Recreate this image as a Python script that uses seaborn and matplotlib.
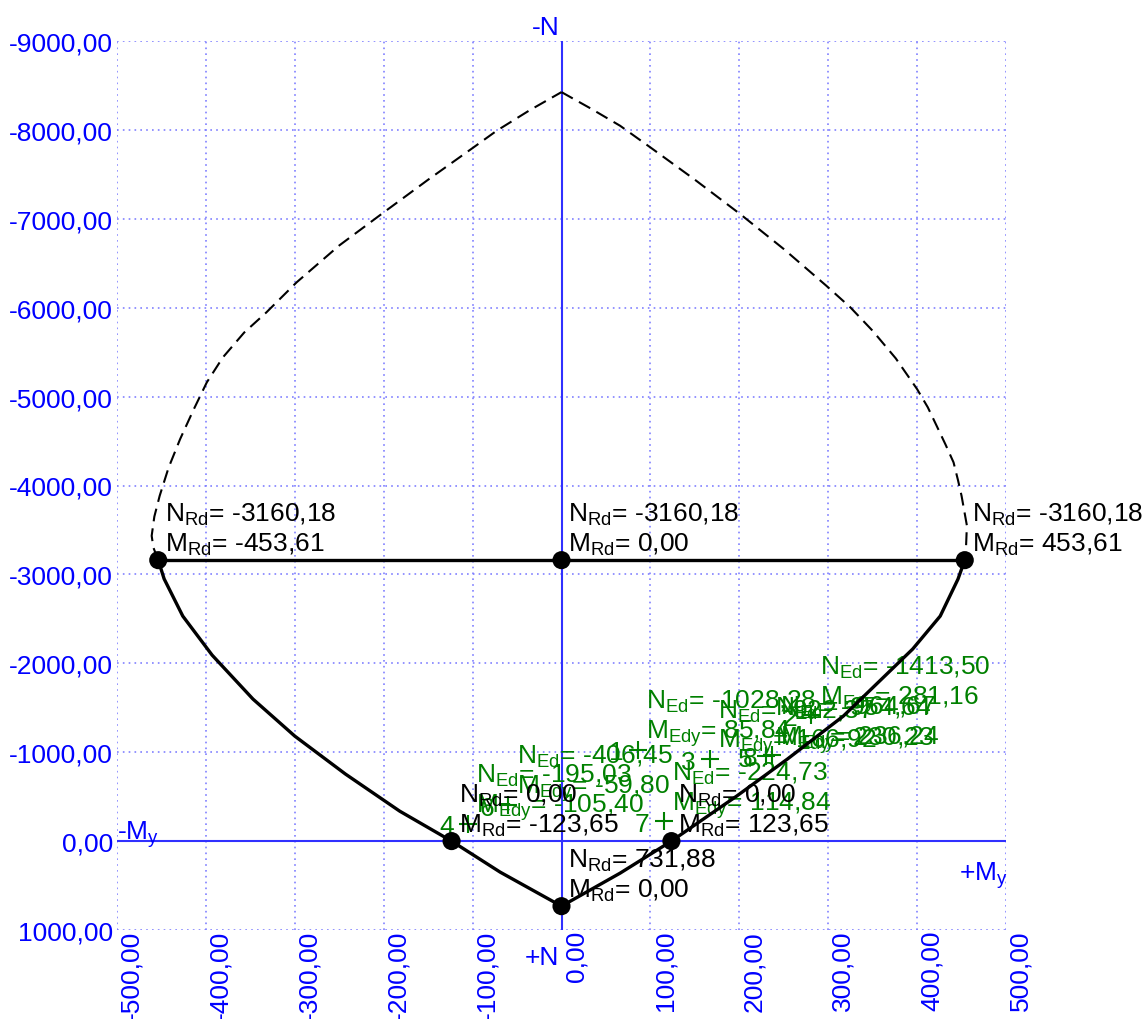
import numpy as np
import pandas as pd
import matplotlib.pyplot as plt
import matplotlib.transforms as mtransforms
import seaborn as sns
from matplotlib.ticker import FuncFormatter

# Interaction diagram M_y - N
# solid design curve, left branch (corner -> bottom) and right branch (bottom -> corner)
left_m = [-453.61, -447.0, -426.0, -393.0, -347.0, -300.0, -243.0, -182.0, -123.65, -69.0, 0.0]
left_n = [-3160.18, -2950.0, -2531.0, -2092.0, -1597.0, -1181.0, -754.0, -337.0, 0.0, 349.0, 731.88]
right_m = [0.0, 66.0, 123.65, 197.0, 254.0, 317.0, 395.0, 426.0, 446.0, 453.61]
right_n = [731.88, 360.0, 0.0, -506.0, -922.0, -1406.0, -2160.0, -2531.0, -2947.0, -3160.18]
top_m = [453.61, 0.0, -453.61]
top_n = [-3160.18, -3160.18, -3160.18]

# dashed curve above the cut-off
dash_left_m = [-453.61, -459.0, -461.0, -458.0, -452.0, -442.0, -429.0, -414.0, -399.0,
               -381.0, -357.0, -332.0, -298.0, -250.0, -200.0, -150.0, -99.0, -73.0, -36.0, 0.0]
dash_left_n = [-3160.18, -3300.0, -3434.0, -3650.0, -3884.0, -4200.0, -4522.0, -4850.0, -5160.0,
               -5440.0, -5720.0, -5947.0, -6285.0, -6700.0, -7072.0, -7440.0, -7803.0, -7990.0, -8220.0, -8425.0]
dash_right_m = [0.0, 33.0, 66.0, 100.0, 150.0, 201.0, 250.0, 298.0, 325.0, 350.0, 376.0,
                400.0, 412.0, 422.0, 432.0, 441.0, 446.0, 450.0, 456.0, 455.0, 453.61]
dash_right_n = [-8425.0, -8240.0, -8046.0, -7803.0, -7440.0, -7053.0, -6660.0, -6246.0, -6003.0, -5740.0, -5430.0,
                -5084.0, -4880.0, -4671.0, -4460.0, -4260.0, -4060.0, -3884.0, -3550.0, -3300.0, -3160.18]

# labelled resistance points
rd_m = [-453.61, 0.0, 453.61, -123.65, 123.65, 0.0]
rd_n = [-3160.18, -3160.18, -3160.18, 0.0, 0.0, 731.88]

# load combinations
load_id = [1, 2, 3, 4, 5, 6, 7, 8]
load_m = [85.84, 281.16, 166.92, -105.40, 230.23, -59.80, 114.84, 236.24]
load_n = [-1028.28, -1413.50, -922.37, -195.03, -954.64, -406.45, -224.73, -964.67]

x_ticks = np.arange(-500, 501, 100)
y_ticks = np.arange(-9000, 1001, 1000)


def fmt(v):
    return f"{v:.2f}".replace('.', ',')


sns.set_style("white")
plt.rcParams['font.family'] = ['Liberation Sans', 'DejaVu Sans']
plt.rcParams['mathtext.fontset'] = 'custom'
plt.rcParams['mathtext.rm'] = 'Liberation Sans'
plt.rcParams['mathtext.it'] = 'Liberation Sans:italic'
FS = 19
BLUE = '#0000ff'
GREEN = '#008000'

fig = plt.figure(figsize=(11.48, 10.2), dpi=100)
ax = fig.add_axes([117 / 1148, 89 / 1020, 889 / 1148, 889 / 1020])

ax.set_xlim(-500, 500)
ax.set_ylim(1000, -9000)
ax.set_xticks(x_ticks)
ax.set_yticks(y_ticks)
ax.xaxis.set_major_formatter(FuncFormatter(lambda v, p: fmt(v)))
ax.yaxis.set_major_formatter(FuncFormatter(lambda v, p: fmt(v)))
ax.tick_params(length=0, labelcolor=BLUE, labelsize=FS)
ax.tick_params(axis='y', pad=3)
ax.tick_params(axis='x', pad=0)
shift = mtransforms.ScaledTranslation(2 / 72, 0, fig.dpi_scale_trans)
for lab in ax.get_xticklabels():
    lab.set_rotation(90)
    lab.set_ha('left')
    lab.set_transform(lab.get_transform() + shift)
ax.grid(True, color='#8080ff', linestyle=(0, (1, 2.5)), linewidth=1.2)
for s in ax.spines.values():
    s.set_visible(False)
ax.axhline(0, color='#3030ff', lw=1.5, zorder=1)
ax.axvline(0, color='#3030ff', lw=1.5, zorder=1)

# axis captions
ax.annotate("-N", xy=(0, 1), xycoords=('data', 'axes fraction'), xytext=(-1.5, 5),
            textcoords='offset points', ha='right', va='baseline', color=BLUE, fontsize=FS)
ax.annotate("+N", xy=(0, 0), xycoords=('data', 'axes fraction'), xytext=(-1.5, -11),
            textcoords='offset points', ha='right', va='top', color=BLUE, fontsize=FS)
ax.annotate(r"-M$_\mathrm{y}$", xy=(-500, 0), xytext=(0, 2),
            textcoords='offset points', ha='left', va='baseline', color=BLUE, fontsize=FS)
ax.annotate(r"+M$_\mathrm{y}$", xy=(500, 0), xytext=(1, -28),
            textcoords='offset points', ha='right', va='baseline', color=BLUE, fontsize=FS)

# load combinations (drawn below the curves)
loads = pd.DataFrame({'id': load_id, 'M': load_m, 'N': load_n})
sns.scatterplot(data=loads, x='M', y='N', marker='+', s=170, color=GREEN,
                linewidth=1.5, ax=ax, zorder=2, legend=False)
for _, r in loads.iterrows():
    ax.annotate(f"{int(r['id'])}", xy=(r['M'], r['N']), xytext=(-10, -7),
                textcoords='offset points', ha='right', va='baseline', color=GREEN, fontsize=FS, zorder=2)
    ax.annotate(r"N$_\mathrm{Ed}$= " + fmt(r['N']), xy=(r['M'], r['N']), xytext=(6, 30),
                textcoords='offset points', ha='left', va='baseline', color=GREEN, fontsize=FS, zorder=2)
    ax.annotate(r"M$_\mathrm{Edy}$= " + fmt(r['M']), xy=(r['M'], r['N']), xytext=(6, 8.5),
                textcoords='offset points', ha='left', va='baseline', color=GREEN, fontsize=FS, zorder=2)

# curves
dash = (0, (6.2, 3.4))
sns.lineplot(x=dash_left_m, y=dash_left_n, sort=False, estimator=None, color='black',
             lw=1.5, linestyle=dash, ax=ax, zorder=3)
sns.lineplot(x=dash_right_m, y=dash_right_n, sort=False, estimator=None, color='black',
             lw=1.5, linestyle=dash, ax=ax, zorder=3)
for xs, ys in [(left_m, left_n), (right_m, right_n), (top_m, top_n)]:
    sns.lineplot(x=xs, y=ys, sort=False, estimator=None, color='black', lw=2.4, ax=ax, zorder=4)

sns.scatterplot(x=rd_m, y=rd_n, s=170, color='black', edgecolor='none', ax=ax, zorder=5, legend=False)
for m, n in zip(rd_m, rd_n):
    ax.annotate(r"N$_\mathrm{Rd}$= " + fmt(n), xy=(m, n), xytext=(5, 28),
                textcoords='offset points', ha='left', va='baseline', color='black', fontsize=FS, zorder=6)
    ax.annotate(r"M$_\mathrm{Rd}$= " + fmt(m), xy=(m, n), xytext=(5, 7),
                textcoords='offset points', ha='left', va='baseline', color='black', fontsize=FS, zorder=6)

ax.set_xlabel('')
ax.set_ylabel('')
fig.savefig('out.png', dpi=100, facecolor='white')
